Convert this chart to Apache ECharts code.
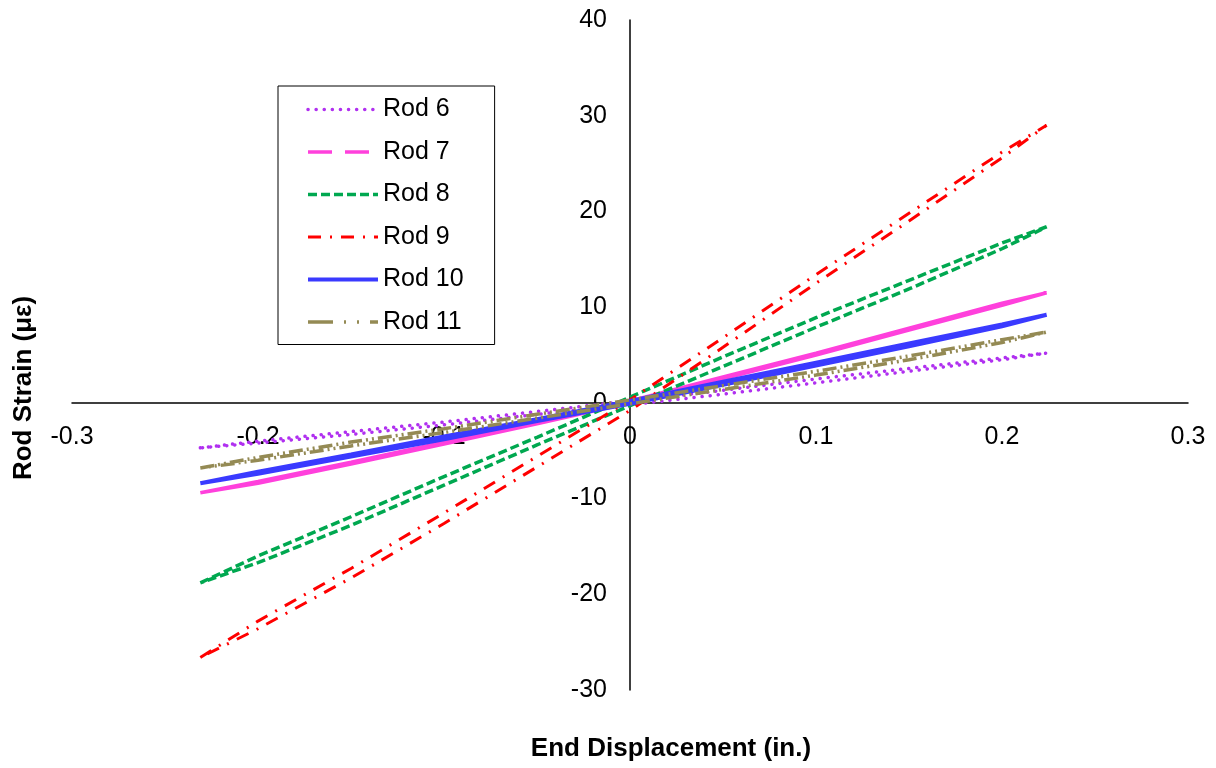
<!DOCTYPE html>
<html>
<head>
<meta charset="utf-8">
<title>Rod Strain vs End Displacement</title>
<script src="https://cdn.jsdelivr.net/npm/echarts@6/dist/echarts.min.js"></script>
<style>
  html, body { margin: 0; padding: 0; background: #fff; }
  #chart { width: 1216px; height: 768px; }
</style>
</head>
<body>
<div id="chart"></div>
<script>
// End displacement stations (in.) shared by both branches of every loop
const displacement = [-0.231, -0.2, -0.15, -0.1, -0.05, 0, 0.05, 0.1, 0.15, 0.2, 0.224];

// Rod strain (µε): upper branch and lower branch, both read left to right
const rod6Upper  = [-4.7, -4.0, -3.0, -2.0, -0.9, 0.2, 1.3, 2.5, 3.6, 4.7, 5.2];
const rod6Lower  = [-4.7, -4.2, -3.3, -2.3, -1.2, -0.2, 0.9, 2.1, 3.3, 4.5, 5.2];
const rod7Upper  = [-9.4, -8.2, -6.2, -4.1, -2.0, 0.2, 2.7, 5.2, 7.8, 10.4, 11.5];
const rod7Lower  = [-9.4, -8.4, -6.4, -4.3, -2.2, 0.0, 2.5, 5.0, 7.6, 10.2, 11.5];
const rod8Upper  = [-18.8, -16.0, -11.9, -7.7, -3.6, 0.6, 4.8, 8.9, 12.8, 16.7, 18.4];
const rod8Lower  = [-18.8, -16.7, -12.8, -8.6, -4.4, -0.3, 3.8, 7.9, 11.9, 16.1, 18.4];
const rod9Upper  = [-26.6, -22.8, -17.3, -11.5, -5.6, 0.3, 6.8, 13.4, 19.8, 26.2, 29.0];
const rod9Lower  = [-26.6, -23.6, -18.3, -12.6, -6.7, -0.8, 5.8, 12.5, 19.0, 25.6, 29.0];
const rod10Upper = [-8.4, -7.2, -5.4, -3.5, -1.7, 0.2, 2.2, 4.2, 6.2, 8.2, 9.2];
const rod10Lower = [-8.4, -7.4, -5.6, -3.8, -1.9, -0.1, 1.9, 3.9, 5.9, 8.0, 9.2];
const rod11Upper = [-6.8, -5.7, -4.1, -2.7, -1.2, 0.3, 1.8, 3.3, 4.9, 6.6, 7.4];
const rod11Lower = [-6.8, -6.0, -4.5, -3.1, -1.6, -0.1, 1.4, 2.9, 4.5, 6.3, 7.4];

const rodNames = ['Rod 6', 'Rod 7', 'Rod 8', 'Rod 9', 'Rod 10', 'Rod 11'];
const xTicks = { min: -0.3, max: 0.3, step: 0.1 };
const yTicks = { min: -30, max: 40, step: 10 };

const FONT = '"Liberation Sans", Arial, sans-serif';

// Plot box in pixels; the axes are shifted so they cross at the origin
const GRID = { left: 72, right: 28, top: 20, bottom: 78, width: 1216 - 72 - 28, height: 768 - 20 - 78 };
const xZeroShift = GRID.width * (0 - xTicks.min) / (xTicks.max - xTicks.min);
const yZeroShift = GRID.height * (0 - yTicks.min) / (yTicks.max - yTicks.min);

// Close each hysteresis loop: out along the upper branch, back along the lower one
function loop(upper, lower) {
  const pts = [];
  for (let i = 0; i < displacement.length; i++) pts.push([displacement[i], upper[i]]);
  for (let i = displacement.length - 1; i >= 0; i--) pts.push([displacement[i], lower[i]]);
  return pts;
}

const styles = [
  { color: '#B030F0', width: 3.5, type: [0.1, 8], cap: 'round' },
  { color: '#FF40DC', width: 3.5, type: 'solid', legendType: [24, 13] },
  { color: '#00A850', width: 3.5, type: [9, 4] },
  { color: '#FF0000', width: 3,   type: [13, 9, 2, 9] },
  { color: '#3A3AFF', width: 4,   type: 'solid' },
  { color: '#948A54', width: 3.5, type: [14, 4, 2, 4, 2, 4], legendType: [25, 11, 2, 11, 2, 11] }
];

const loops = [
  loop(rod6Upper, rod6Lower),
  loop(rod7Upper, rod7Lower),
  loop(rod8Upper, rod8Lower),
  loop(rod9Upper, rod9Lower),
  loop(rod10Upper, rod10Lower),
  loop(rod11Upper, rod11Lower)
];

const series = rodNames.map((name, i) => ({
  name,
  type: 'line',
  data: loops[i],
  showSymbol: false,
  symbol: 'none',
  smooth: false,
  animation: false,
  lineStyle: {
    color: styles[i].color,
    width: styles[i].width,
    type: styles[i].type,
    cap: styles[i].cap || 'butt'
  },
  itemStyle: { color: styles[i].color }
}));

const chart = echarts.init(document.getElementById('chart'), null, { renderer: 'canvas' });

chart.setOption({
  backgroundColor: '#fff',
  animation: false,
  grid: { left: GRID.left, right: GRID.right, top: GRID.top, bottom: GRID.bottom },
  xAxis: {
    type: 'value',
    z: 3,
    min: xTicks.min, max: xTicks.max, interval: xTicks.step,
    offset: -yZeroShift,
    axisLine: { onZero: false, lineStyle: { color: '#000', width: 1.5 } },
    axisTick: { show: false },
    splitLine: { show: false },
    axisLabel: {
      color: '#000', fontSize: 25, fontFamily: FONT, margin: 22,
      formatter: v => String(+v.toFixed(1))
    }
  },
  yAxis: {
    type: 'value',
    z: 3,
    min: yTicks.min, max: yTicks.max, interval: yTicks.step,
    offset: -xZeroShift,
    axisLine: { onZero: false, lineStyle: { color: '#000', width: 1.5 } },
    axisTick: { show: false },
    splitLine: { show: false },
    axisLabel: {
      color: '#000', fontSize: 25, fontFamily: FONT, margin: 23,
      formatter: v => String(Math.round(v))
    }
  },
  legend: {
    orient: 'vertical',
    left: 278, top: 86,
    itemWidth: 70, itemHeight: 14, itemGap: 17.5,
    padding: [11, 31, 10, 28],
    borderColor: '#000', borderWidth: 1,
    backgroundColor: '#fff',
    itemStyle: { opacity: 0 },
    textStyle: { color: '#000', fontSize: 25, fontFamily: FONT },
    data: rodNames.map((name, i) => ({
      name,
      itemStyle: { opacity: 0 },
      lineStyle: {
        color: styles[i].color,
        width: styles[i].width,
        type: styles[i].legendType || styles[i].type,
        cap: styles[i].cap || 'butt',
        opacity: 1
      }
    }))
  },
  graphic: [
    {
      type: 'text', x: 671, y: 749,
      style: { text: 'End Displacement (in.)', fontSize: 26, fontWeight: 'bold', fontFamily: FONT, fill: '#000',
               align: 'center', verticalAlign: 'middle' }
    },
    {
      type: 'text', x: 24, y: 388, rotation: Math.PI / 2,
      style: { text: 'Rod Strain (με)', fontSize: 26, fontWeight: 'bold', fontFamily: FONT, fill: '#000',
               align: 'center', verticalAlign: 'middle' }
    }
  ],
  series
});
</script>
</body>
</html>
